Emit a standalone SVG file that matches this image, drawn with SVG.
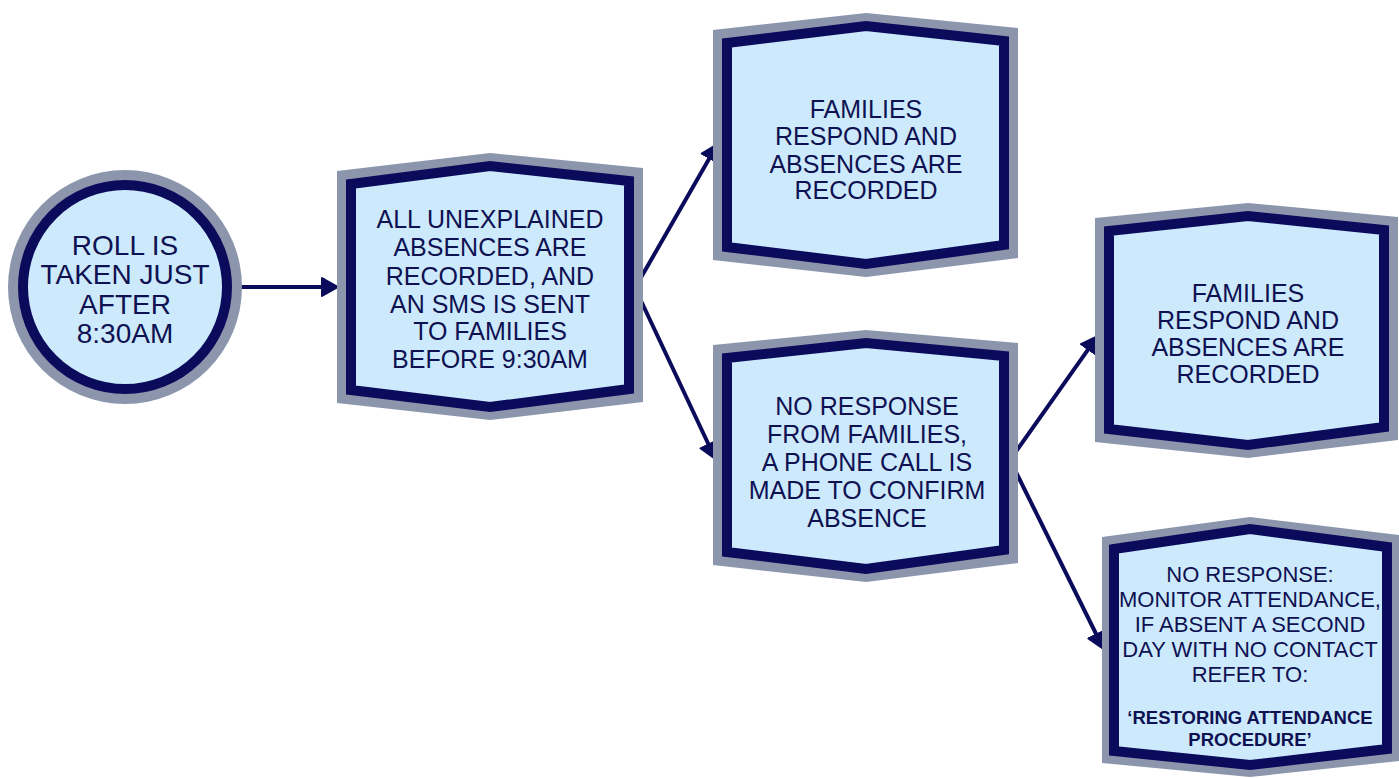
<svg xmlns="http://www.w3.org/2000/svg" width="1399" height="778" viewBox="0 0 1399 778">
<style>
.outer{fill:#8b96ad}
.inner{fill:#cdeafc;stroke:#0b0b5c;stroke-width:10;stroke-linejoin:miter}
.t{font-family:"Liberation Sans",Arial,sans-serif;fill:#0e1152;text-anchor:middle;font-size:25px}
.c{font-size:28px}
.s{font-size:22px}
.b{font-size:18.5px;font-weight:bold}
.conn{stroke:#0b0b5c;stroke-width:4;fill:none}
</style>
<defs>
<marker id="ah" markerUnits="userSpaceOnUse" markerWidth="22" markerHeight="24" refX="6" refY="11" orient="auto">
<path d="M1,2 L17,11 L1,20 z" fill="#0b0b5c" stroke="#0b0b5c" stroke-width="2" stroke-linejoin="round"/>
</marker>
</defs>
<rect width="1399" height="778" fill="#ffffff"/>
<g id="connectors">
<line class="conn" x1="240" y1="287" x2="327" y2="287" marker-end="url(#ah)"/>
<line class="conn" x1="635" y1="288" x2="712" y2="153.7" marker-end="url(#ah)"/>
<line class="conn" x1="635" y1="288" x2="710.7" y2="449" marker-end="url(#ah)"/>
<line class="conn" x1="1010" y1="460" x2="1091.2" y2="345.2" marker-end="url(#ah)"/>
<line class="conn" x1="1010" y1="460" x2="1098.6" y2="639" marker-end="url(#ah)"/>
</g>
<g id="n1">
<circle cx="125" cy="287" r="117" class="outer"/>
<circle cx="125" cy="287" r="102" class="inner"/>
<text class="t c" x="125" y="255">ROLL IS</text>
<text class="t c" x="125" y="284">TAKEN JUST</text>
<text class="t c" x="125" y="314">AFTER</text>
<text class="t c" x="125" y="343">8:30AM</text>
</g>
<g id="n2">
<polygon class="outer" points="337,171 490,153 643,168 643,402 490,420 337,403"/>
<polygon class="inner" points="351,184 490,166 629,181 629,389 490,407 351,390"/>
<text class="t" x="490" y="228">ALL UNEXPLAINED</text>
<text class="t" x="490" y="256">ABSENCES ARE</text>
<text class="t" x="490" y="285">RECORDED, AND</text>
<text class="t" x="490" y="313">AN SMS IS SENT</text>
<text class="t" x="490" y="340">TO FAMILIES</text>
<text class="t" x="490" y="368">BEFORE 9:30AM</text>
</g>
<g id="n3">
<polygon class="outer" points="713,30 866,13 1018,28 1018,258 866,277 713,260"/>
<polygon class="inner" points="727,43 866,26 1004,41 1004,245 866,264 727,247"/>
<text class="t" x="866" y="118">FAMILIES</text>
<text class="t" x="866" y="145">RESPOND AND</text>
<text class="t" x="866" y="173">ABSENCES ARE</text>
<text class="t" x="866" y="199">RECORDED</text>
</g>
<g id="n4">
<polygon class="outer" points="713,345 866,330 1018,343 1018,563 866,582 713,565"/>
<polygon class="inner" points="727,358 866,343 1004,356 1004,550 866,569 727,552"/>
<text class="t" x="867" y="415">NO RESPONSE</text>
<text class="t" x="867" y="443">FROM FAMILIES,</text>
<text class="t" x="867" y="471">A PHONE CALL IS</text>
<text class="t" x="867" y="499">MADE TO CONFIRM</text>
<text class="t" x="867" y="527">ABSENCE</text>
</g>
<g id="n5">
<polygon class="outer" points="1095,218 1248,203 1398,217 1398,440 1248,458 1095,442"/>
<polygon class="inner" points="1109,231 1248,216 1384,230 1384,427 1248,445 1109,429"/>
<text class="t" x="1248" y="302">FAMILIES</text>
<text class="t" x="1248" y="329">RESPOND AND</text>
<text class="t" x="1248" y="356">ABSENCES ARE</text>
<text class="t" x="1248" y="383">RECORDED</text>
</g>
<g id="n6">
<polygon class="outer" points="1102,537 1250,517 1399,535 1399,761 1250,777 1102,763"/>
<polygon class="inner" points="1114,549 1250,529 1387,547 1387,749 1250,765 1114,751"/>
<text class="t s" x="1250" y="582">NO RESPONSE:</text>
<text class="t s" x="1250" y="607">MONITOR ATTENDANCE,</text>
<text class="t s" x="1250" y="632">IF ABSENT A SECOND</text>
<text class="t s" x="1250" y="657">DAY WITH NO CONTACT</text>
<text class="t s" x="1250" y="682">REFER TO:</text>
<text class="t b" x="1250" y="724">‘RESTORING ATTENDANCE</text>
<text class="t b" x="1250" y="746">PROCEDURE’</text>
</g>
</svg>
